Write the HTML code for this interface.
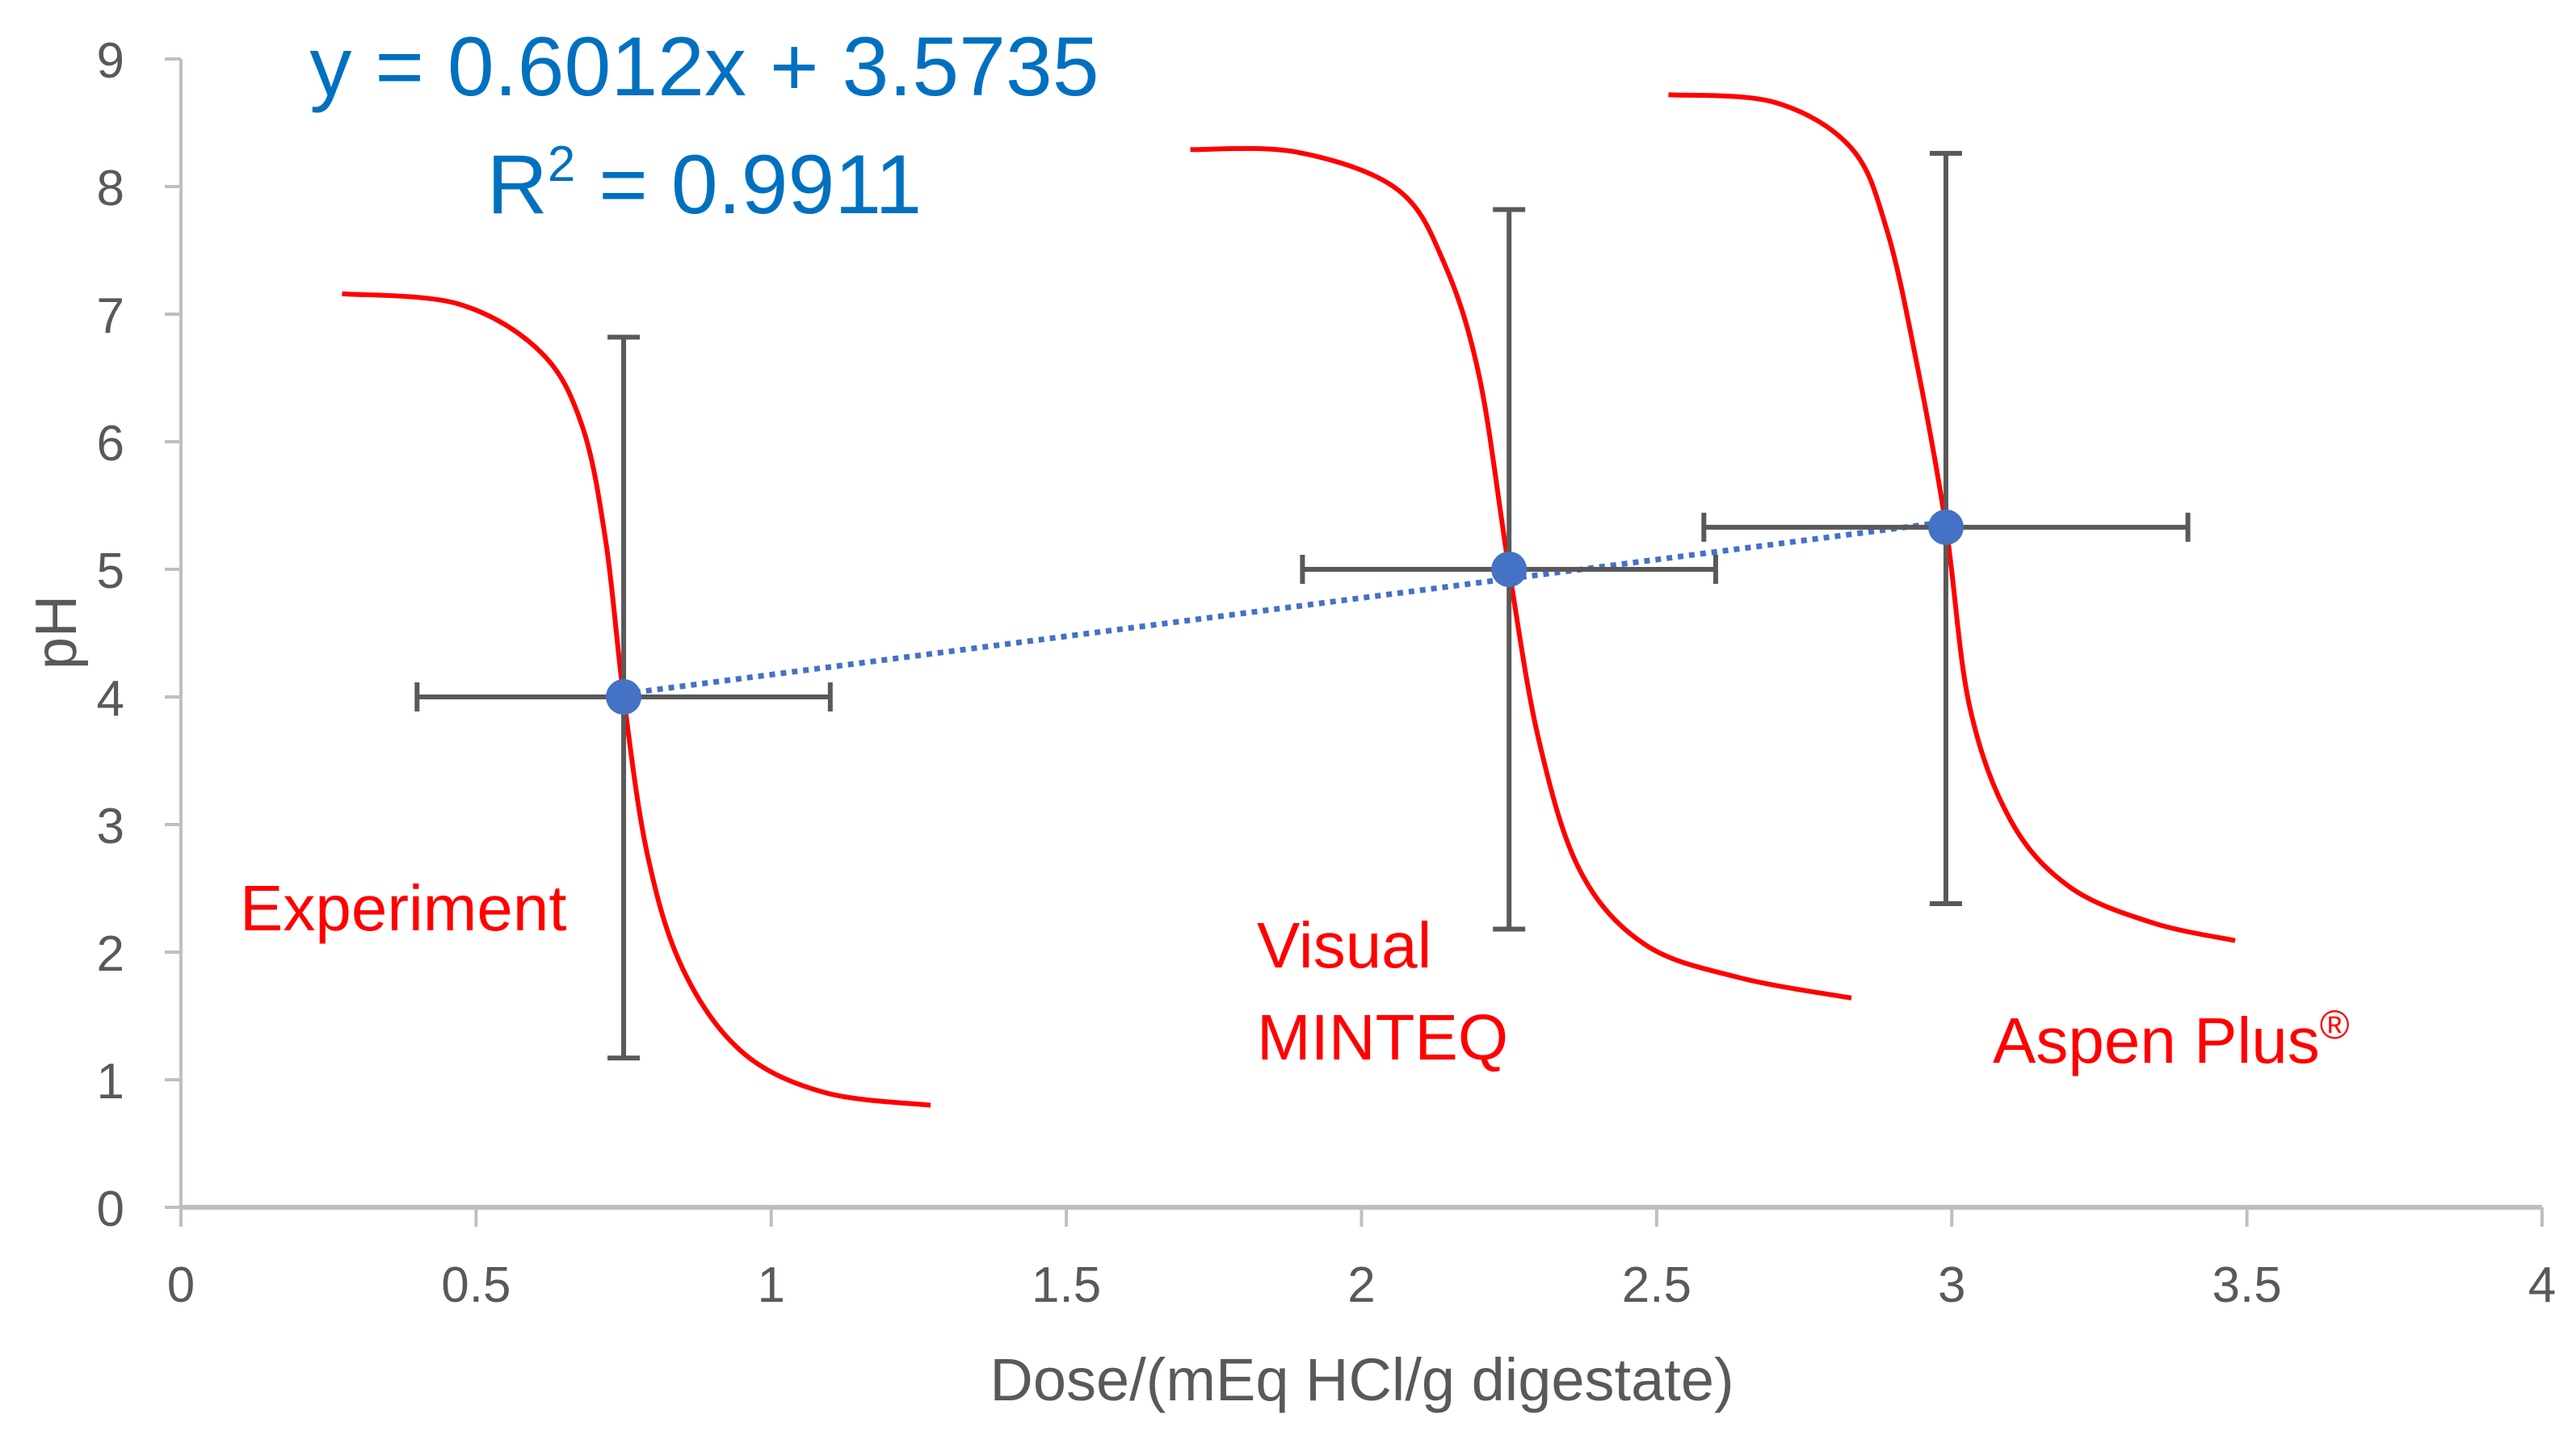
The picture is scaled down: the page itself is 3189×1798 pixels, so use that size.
<!DOCTYPE html>
<html><head><meta charset="utf-8"><style>
html,body{margin:0;padding:0;background:#fff;}
svg{display:block;font-family:"Liberation Sans",sans-serif;}
</style></head><body>
<svg id="chart" width="3189" height="1798" viewBox="0 0 3189 1798"></svg>
<script>
const xTicks=[0,0.5,1,1.5,2,2.5,3,3.5,4];
const xTickLabels=["0","0.5","1","1.5","2","2.5","3","3.5","4"];
const yTicks=[0,1,2,3,4,5,6,7,8,9];
const pointX=[0.75,2.25,2.99];
const pointY=[4.0,5.0,5.33];
const errYLow=[1.17,2.18,2.38];
const errYHigh=[6.82,7.82,8.26];
const errXLow=[0.40,1.90,2.58];
const errXHigh=[1.10,2.60,3.40];
const trendSlope=0.6012, trendIntercept=3.5735;
const curve1X=[0.273,0.47,0.61,0.68,0.72,0.75,0.79,0.85,0.95,1.09,1.27];
const curve1Y=[7.16,7.08,6.7,6.12,5.21,4.0,2.77,1.87,1.22,0.9,0.8];
const curve2X=[1.71,1.89,2.06,2.14,2.20,2.25,2.30,2.37,2.48,2.64,2.83];
const curve2Y=[8.29,8.27,7.98,7.4,6.5,5.0,3.67,2.64,2.06,1.8,1.64];
const curve3X=[2.52,2.70,2.83,2.89,2.94,2.99,3.03,3.10,3.20,3.34,3.48];
const curve3Y=[8.72,8.66,8.30,7.66,6.63,5.34,3.93,3.03,2.51,2.23,2.09];

const X0=224,X1=3147,Y0=1495,Y1=73;
const sx=v=>X0+(X1-X0)*v/4;
const sy=v=>Y0-(Y0-Y1)*v/9;
const svg=document.getElementById('chart');
const NS='http://www.w3.org/2000/svg';
function mk(tag,attrs,parent){const e=document.createElementNS(NS,tag);for(const k in attrs)e.setAttribute(k,attrs[k]);(parent||svg).appendChild(e);return e;}

let ax=mk('line',{x1:X0,y1:Y0,x2:X1,y2:Y0,stroke:'#bfbfbf','stroke-width':6});


let ay=mk('line',{x1:X0,y1:Y0,x2:X0,y2:Y1,stroke:'#bfbfbf','stroke-width':4});


xTicks.forEach((v,i)=>{
  let t=mk('line',{x1:sx(v),y1:Y0,x2:sx(v),y2:Y0+24,stroke:'#bfbfbf','stroke-width':4});
  
  
  let l=mk('text',{x:sx(v),y:1612,'text-anchor':'middle','font-size':62,fill:'#595959'});
  l.textContent=xTickLabels[i];
  
  
});
yTicks.forEach(v=>{
  let t=mk('line',{x1:X0-20,y1:sy(v),x2:X0,y2:sy(v),stroke:'#bfbfbf','stroke-width':4});
  
  
  let l=mk('text',{x:154,y:sy(v)+23,'text-anchor':'end','font-size':62,fill:'#595959'});
  l.textContent=String(v);
  
  
});
let xt=mk('text',{x:1686,y:1734,'text-anchor':'middle','font-size':74,fill:'#595959'});
xt.textContent='Dose/(mEq HCl/g digestate)';


let yt=mk('text',{x:0,y:0,'text-anchor':'middle','font-size':72,fill:'#595959',transform:'translate(94,783) rotate(-90)'});
yt.textContent='pH';



function smooth(xs,ys){
  const p=xs.map((x,i)=>[sx(x),sy(ys[i])]);
  let d='M'+p[0][0]+','+p[0][1];
  for(let i=0;i<p.length-1;i++){
    const a=p[Math.max(0,i-1)],b=p[i],c=p[i+1],e=p[Math.min(p.length-1,i+2)];
    const c1=[b[0]+(c[0]-a[0])/6,b[1]+(c[1]-a[1])/6],c2=[c[0]-(e[0]-b[0])/6,c[1]-(e[1]-b[1])/6];
    d+=` C${c1[0]},${c1[1]} ${c2[0]},${c2[1]} ${c[0]},${c[1]}`;
  }
  return d;
}
[[curve1X,curve1Y,'curve-experiment'],[curve2X,curve2Y,'curve-visual-minteq'],[curve3X,curve3Y,'curve-aspen-plus']].forEach(c=>{
  let p=mk('path',{d:smooth(c[0],c[1]),fill:'none',stroke:'#ff0000','stroke-width':6,'stroke-linejoin':'round'});
  
  
});

let tl=mk('line',{x1:sx(pointX[0]),y1:sy(trendSlope*pointX[0]+trendIntercept),x2:sx(pointX[2]),y2:sy(trendSlope*pointX[2]+trendIntercept),stroke:'#4472c4','stroke-width':7,'stroke-dasharray':'7 7'});



pointX.forEach((x,i)=>{
  const g=mk('g',{stroke:'#595959','stroke-width':6});
  
  
  mk('line',{x1:sx(x),y1:sy(errYLow[i]),x2:sx(x),y2:sy(errYHigh[i])},g);
  mk('line',{x1:sx(x)-20,y1:sy(errYLow[i]),x2:sx(x)+20,y2:sy(errYLow[i])},g);
  mk('line',{x1:sx(x)-20,y1:sy(errYHigh[i]),x2:sx(x)+20,y2:sy(errYHigh[i])},g);
  mk('line',{x1:sx(errXLow[i]),y1:sy(pointY[i]),x2:sx(errXHigh[i]),y2:sy(pointY[i])},g);
  mk('line',{x1:sx(errXLow[i]),y1:sy(pointY[i])-18,x2:sx(errXLow[i]),y2:sy(pointY[i])+18},g);
  mk('line',{x1:sx(errXHigh[i]),y1:sy(pointY[i])-18,x2:sx(errXHigh[i]),y2:sy(pointY[i])+18},g);
});
pointX.forEach((x,i)=>{
  let c=mk('circle',{cx:sx(x),cy:sy(pointY[i]),r:22,fill:'#4472c4'});
  
  
});

function txt(s,x,y,size,fill,anchor){
  let t=mk('text',{x:x,y:y,'font-size':size,fill:fill,'text-anchor':anchor||'start'});
  t.textContent=s;
  return t;
}
let e1=txt('y = 0.6012x + 3.5735',872,118,104,'#0070c0','middle');


let e2=mk('text',{x:872,y:264,'font-size':104,fill:'#0070c0','text-anchor':'middle'});
e2.innerHTML='R<tspan font-size="62" dy="-40">2</tspan><tspan dy="40"> = 0.9911</tspan>';


let a1=txt('Experiment',297,1152,80,'#ff0000');


let a2=txt('Visual',1556,1198,80,'#ff0000');


let a3=txt('MINTEQ',1556,1312,80,'#ff0000');


let a4=mk('text',{x:2467,y:1316,'font-size':80,fill:'#ff0000'});
a4.innerHTML='Aspen Plus<tspan font-size="50" dy="-30">®</tspan>';


</script>
</body></html>
